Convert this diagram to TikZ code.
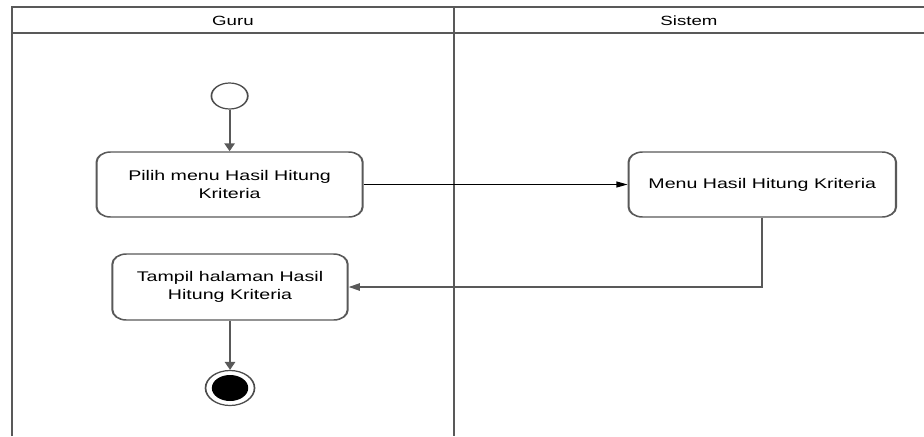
\documentclass[tikz,border=0pt]{standalone}
\usepackage{fontspec}
\setmainfont{Liberation Sans}
\usetikzlibrary{arrows.meta}
\begin{document}
\begin{tikzpicture}[x=0.75pt,y=-0.75pt]
\useasboundingbox (0,0) rectangle (924,436);
\begin{scope}[transform canvas={xscale=1.4}]
\tikzset{
  frame/.style={draw=black!65, line width=1.2pt},
  actbox/.style={draw=black!65, line width=1.1pt, rounded corners=7.5pt, fill=white,
     align=center, inner sep=0pt, minimum height=65*0.75pt,
     font=\fontsize{10.5}{13.5}\selectfont},
  lbl/.style={font=\fontsize{10}{12}\selectfont, inner sep=0pt},
  conn/.style={draw=black!65, line width=1.1pt, -{Triangle[length=6pt,width=5.5pt]}},
  hconn/.style={draw=black, line width=0.8pt, -{Triangle[length=6pt,width=4.5pt]}}
}
% swimlane frame
\draw[frame] (8.6,436) -- (8.6,7) -- (660,7);
\draw[frame] (8.6,33) -- (660,33);
\draw[frame] (324.3,7) -- (324.3,436);
\node[lbl] (guru) at (166.4,20.5) {Guru};
\node[lbl] (sistem) at (492.1,20.5) {Sistem};
% nodes
\node[circle, draw=black!70, line width=0.9pt, fill=white, minimum size=26*0.75pt, inner sep=0pt] (start) at (164,96) {};
\node[actbox, minimum width=190*0.75pt] (b1) at (164,184.5) {Pilih menu Hasil Hitung\\Kriteria};
\node[actbox, minimum width=191*0.75pt] (b2) at (544.5,184.5) {Menu Hasil Hitung Kriteria};
\node[actbox, minimum width=168*0.75pt, minimum height=66*0.75pt] (b3) at (164.3,287) {Tampil halaman Hasil\\Hitung Kriteria};
\node[circle, draw=black!70, line width=0.9pt, fill=white, minimum size=35*0.75pt, inner sep=0pt] (endo) at (164.3,388) {};
\node[circle, fill=black, minimum size=26*0.75pt, inner sep=0pt] (endi) at (endo) {};
% connectors
\draw[conn] (start) -- (b1);
\draw[hconn] (b1) -- (b2);
\draw[conn] (b2.south) |- (b3.east);
\draw[conn] (b3) -- (endo);
\end{scope}
\end{tikzpicture}
\end{document}
